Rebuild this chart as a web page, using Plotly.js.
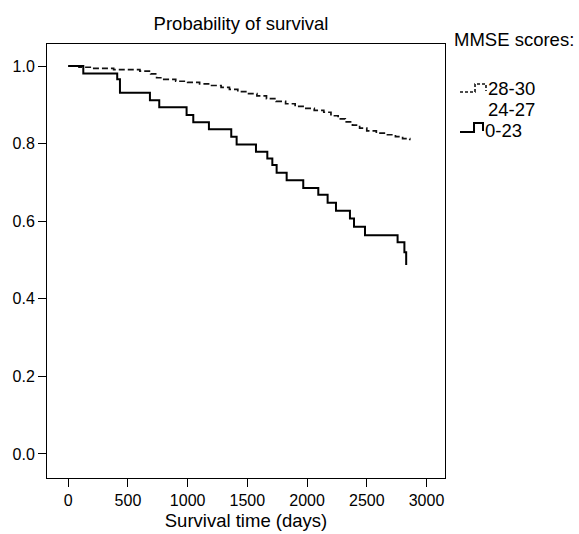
<!DOCTYPE html>
<html>
<head>
<meta charset="utf-8">
<script src="https://cdn.plot.ly/plotly-3.0.1.min.js"></script>
<style>html,body{margin:0;padding:0;background:#fff;}#chart{width:579px;height:534px;}</style>
</head>
<body>
<div id="chart"></div>
<script>
// ---- data ----
const groupNames = ["28-30", "24-27", "0-23"];

const time28_30 = [0, 90, 200, 380, 600, 690, 740, 800, 900, 1000, 1100, 1200, 1280, 1350, 1420, 1500, 1580, 1660, 1740, 1820, 1900, 1980, 2060, 2140, 2200, 2260, 2320, 2380, 2440, 2500, 2580, 2660, 2740, 2800, 2860];
const surv28_30 = [1.0, 0.997, 0.994, 0.991, 0.987, 0.980, 0.970, 0.966, 0.961, 0.958, 0.954, 0.950, 0.945, 0.940, 0.934, 0.929, 0.923, 0.916, 0.909, 0.903, 0.896, 0.891, 0.886, 0.881, 0.872, 0.864, 0.856, 0.848, 0.840, 0.833, 0.827, 0.823, 0.818, 0.813, 0.809];

const time0_23 = [0, 126, 410, 433, 684, 762, 991, 1047, 1178, 1365, 1410, 1572, 1667, 1709, 1745, 1829, 1968, 2094, 2172, 2242, 2359, 2393, 2485, 2758, 2815, 2830];
const surv0_23 = [1.0, 0.981, 0.966, 0.931, 0.912, 0.894, 0.874, 0.855, 0.837, 0.818, 0.798, 0.779, 0.762, 0.745, 0.725, 0.706, 0.686, 0.668, 0.648, 0.627, 0.607, 0.586, 0.564, 0.546, 0.52, 0.487];

const yTickVals = [0.0, 0.2, 0.4, 0.6, 0.8, 1.0];
const xTickVals = [0, 500, 1000, 1500, 2000, 2500, 3000];

// ---- layout helpers (pixel -> paper) ----
const L = 47, R = 445, T = 44, B = 478;
const px = p => (p - L) / (R - L);
const py = p => (B - p) / (B - T);
function pathOf(pts) {
  return pts.map((p, i) => (i ? "L" : "M") + px(p[0]).toFixed(4) + "," + py(p[1]).toFixed(4)).join(" ");
}

const FONT = "Liberation Sans, Arial, sans-serif";
const BIG = 18.5;

const traces = [
  {x: time28_30, y: surv28_30, mode: "lines", line: {shape: "hv", color: "#111", width: 1.7, dash: "6px,3px"}, name: groupNames[0], showlegend: false, hoverinfo: "x+y"},
  {x: time0_23, y: surv0_23, mode: "lines", line: {shape: "hv", color: "#000", width: 2}, name: groupNames[2], showlegend: false, hoverinfo: "x+y"}
];

function legendText(t, x, y) {
  return {text: t, xref: "paper", yref: "paper", x: px(x), y: py(y), xanchor: "left", yanchor: "middle", showarrow: false, font: {family: FONT, size: BIG}};
}

const layout = {
  width: 579, height: 534,
  margin: {l: L, r: 579 - R, t: T, b: 534 - B, pad: 0},
  paper_bgcolor: "#fff", plot_bgcolor: "#fff",
  font: {family: FONT, size: 16, color: "#000"},
  showlegend: false,
  title: {text: "Probability of survival", font: {family: FONT, size: BIG, color: "#000"}, x: px(241), xref: "paper", xanchor: "center", y: 1 - 24 / 534, yanchor: "middle"},
  xaxis: {
    range: [-178, 3155], tickvals: xTickVals, ticktext: xTickVals.map(String),
    ticks: "outside", ticklen: 8, tickwidth: 1, tickcolor: "#000",
    showline: true, linecolor: "#000", linewidth: 1, mirror: true,
    showgrid: false, zeroline: false,
    tickfont: {family: FONT, size: 16},
    title: {text: "Survival time (days)", font: {family: FONT, size: BIG}, standoff: 5}
  },
  yaxis: {
    range: [-0.062, 1.057], tickvals: yTickVals, ticktext: yTickVals.map(v => v.toFixed(1)),
    ticks: "outside", ticklen: 8, tickwidth: 1, tickcolor: "#000",
    showline: true, linecolor: "#000", linewidth: 1, mirror: true,
    showgrid: false, zeroline: false,
    tickfont: {family: FONT, size: 16}
  },
  annotations: [
    legendText("MMSE scores:", 452, 39.5),
    legendText(groupNames[0], 486, 88),
    legendText(groupNames[1], 486, 109.5),
    legendText(groupNames[2], 483, 130)
  ],
  shapes: [
    {type: "path", xref: "paper", yref: "paper", path: pathOf([[460, 92], [475, 92], [475, 84], [486, 84], [486, 91]]), line: {color: "#111", width: 1.6, dash: "3px,2px"}},
    {type: "path", xref: "paper", yref: "paper", path: pathOf([[460, 132], [474, 132], [474, 123], [483, 123], [483, 131]]), line: {color: "#000", width: 2}}
  ]
};

Plotly.newPlot("chart", traces, layout, {displayModeBar: false, staticPlot: true});
</script>
</body>
</html>
